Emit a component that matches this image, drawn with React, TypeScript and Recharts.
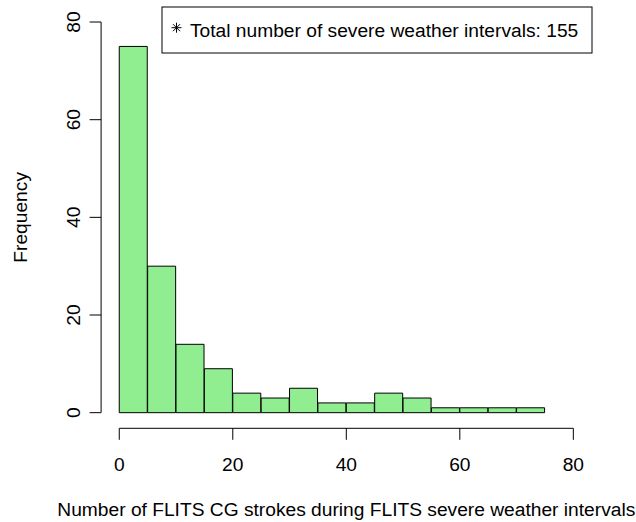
import React from 'react';
import { BarChart, Bar, XAxis, YAxis, ReferenceLine, Customized } from 'recharts';

// ---- data ----
const binStarts = [0, 5, 10, 15, 20, 25, 30, 35, 40, 45, 50, 55, 60, 65, 70];
const binWidth = 5;
const counts = [75, 30, 14, 9, 4, 3, 5, 2, 2, 4, 3, 1, 1, 1, 1];
const xTicks = [0, 20, 40, 60, 80];
const yTicks = [0, 20, 40, 60, 80];
const xTitle = 'Number of FLITS CG strokes during FLITS severe weather intervals';
const yTitle = 'Frequency';
const legendText = 'Total number of severe weather intervals: 155';

const data = binStarts.map((s, i) => ({ mid: s + binWidth / 2, count: counts[i] }));

// ---- layout ----
const W = 636;
const H = 522;
const FONT = '"Liberation Sans", Arial, Helvetica, sans-serif';
const FS = 19.2;
const DOMAIN: [number, number] = [-3.2, 83.2];
const PLOT_LEFT = 101.1;
const PLOT_RIGHT = 591.5;
const PLOT_TOP = 6.4;
const PLOT_BOTTOM = 428.3;

const XTick = (props: any) => {
  const { x, payload } = props;
  return (
    <g>
      <line x1={x} x2={x} y1={PLOT_BOTTOM} y2={PLOT_BOTTOM + 11.5} stroke="#000" strokeWidth={1} />
      <text x={x} y={470.7} textAnchor="middle" fontSize={FS} fontFamily={FONT} fill="#000">
        {payload.value}
      </text>
    </g>
  );
};

const YTick = (props: any) => {
  const { y, payload } = props;
  return (
    <g>
      <line x1={PLOT_LEFT} x2={PLOT_LEFT - 11.5} y1={y} y2={y} stroke="#000" strokeWidth={1} />
      <text
        x={80}
        y={y}
        textAnchor="middle"
        fontSize={FS}
        fontFamily={FONT}
        fill="#000"
        transform={`rotate(-90, 80, ${y})`}
      >
        {payload.value}
      </text>
    </g>
  );
};

const Decorations = () => {
  const cx = 176.5;
  const cy = 27.7;
  const r = 5;
  const d = r * 0.7071;
  const midY = (PLOT_TOP + PLOT_BOTTOM) / 2;
  const midX = (PLOT_LEFT + PLOT_RIGHT) / 2;
  return (
    <g>
      {/* legend */}
      <rect x={162} y={7} width={430} height={46} fill="#fff" stroke="#000" strokeWidth={1} />
      <line x1={cx - r} x2={cx + r} y1={cy} y2={cy} stroke="#000" />
      <line x1={cx} x2={cx} y1={cy - r} y2={cy + r} stroke="#000" />
      <line x1={cx - d} x2={cx + d} y1={cy - d} y2={cy + d} stroke="#000" />
      <line x1={cx - d} x2={cx + d} y1={cy + d} y2={cy - d} stroke="#000" />
      <text x={190} y={36.7} fontSize={FS} fontFamily={FONT} fill="#000">
        {legendText}
      </text>
      {/* axis titles */}
      <text x={midX} y={516} textAnchor="middle" fontSize={FS} fontFamily={FONT} fill="#000">
        {xTitle}
      </text>
      <text
        x={27.5}
        y={midY}
        textAnchor="middle"
        fontSize={FS}
        fontFamily={FONT}
        fill="#000"
        transform={`rotate(-90, 27.5, ${midY})`}
      >
        {yTitle}
      </text>
    </g>
  );
};

export default function App() {
  return (
    <div style={{ position: 'absolute', left: 0, top: 0, width: W, height: H, background: '#fff' }}>
      <BarChart
        width={W}
        height={H}
        data={data}
        margin={{ top: PLOT_TOP, right: W - PLOT_RIGHT, bottom: 0, left: 0 }}
        barCategoryGap={0}
        barGap={0}
      >
        <XAxis
          dataKey="mid"
          type="number"
          domain={DOMAIN}
          allowDataOverflow
          ticks={xTicks}
          interval={0}
          height={H - PLOT_BOTTOM}
          axisLine={false}
          tickLine={false}
          tick={<XTick />}
        />
        <YAxis
          type="number"
          domain={DOMAIN}
          allowDataOverflow
          ticks={yTicks}
          interval={0}
          width={PLOT_LEFT}
          axisLine={false}
          tickLine={false}
          tick={<YTick />}
        />
        <Bar dataKey="count" fill="#90EE90" stroke="#000" strokeWidth={1} isAnimationActive={false} />
        <ReferenceLine
          segment={[{ x: xTicks[0], y: DOMAIN[0] }, { x: xTicks[xTicks.length - 1], y: DOMAIN[0] }]}
          stroke="#000"
          strokeWidth={1}
          ifOverflow="visible"
        />
        <ReferenceLine
          segment={[{ x: DOMAIN[0], y: yTicks[0] }, { x: DOMAIN[0], y: yTicks[yTicks.length - 1] }]}
          stroke="#000"
          strokeWidth={1}
          ifOverflow="visible"
        />
        <Customized component={Decorations} />
      </BarChart>
    </div>
  );
}
